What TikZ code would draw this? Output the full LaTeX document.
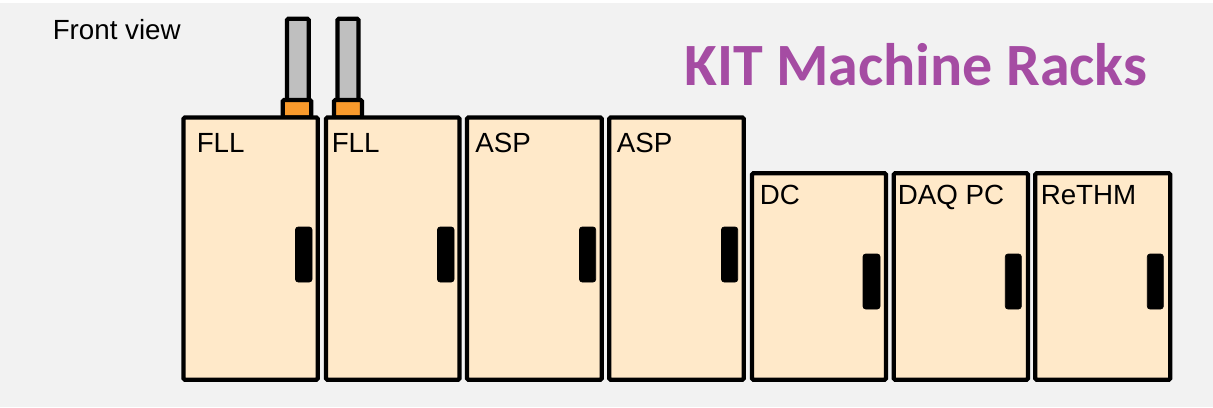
\documentclass[tikz,border=0pt]{standalone}
\usepackage{fontspec}
\setmainfont{Liberation Sans}
\newfontfamily\titlefont{Carlito}
\definecolor{bgcol}{HTML}{F2F2F2}
\definecolor{rackfill}{HTML}{FFE9C9}
\definecolor{orangecol}{HTML}{F99A2C}
\definecolor{tubegrey}{HTML}{BFBFBF}
\definecolor{titlecol}{HTML}{A54CA3}
\tikzset{
  rackbox/.style={draw=black, line width=3.2pt, fill=rackfill, rounded corners=1pt},
  handlebox/.style={fill=black, draw=black, line width=0.5pt, rounded corners=2pt},
  tubebox/.style={draw=black, line width=3.2pt, fill=tubegrey, rounded corners=1pt},
  capbox/.style={draw=black, line width=3.2pt, fill=orangecol, rounded corners=1pt},
  racklabel/.style={anchor=base west, inner sep=0pt, font=\fontsize{20.8}{25}\selectfont},
}
\begin{document}
\begin{tikzpicture}[x=0.75pt, y=-0.75pt]
\useasboundingbox (0,0) rectangle (1213,407);
\fill[white] (0,0) rectangle (1213,407);
\fill[bgcol] (0,3) rectangle (1213,407);

% front view label
\node[racklabel] (fv) at (52.5,39.3) {Front view};

% title
\node[anchor=base west, inner sep=0pt, text=titlecol, font=\titlefont\bfseries\fontsize{45}{54}\selectfont] (title) at (684,85) {KIT Machine Racks};

% tubes on FLL racks
\draw[tubebox] (287,18.7) rectangle (308.7,101);
\draw[tubebox] (337.5,18.7) rectangle (358.5,101);
\draw[capbox] (282.7,100) rectangle (311.3,117.5);
\draw[capbox] (334,100) rectangle (362,117.5);

% tall racks
\draw[rackbox] (183.5,117.5) rectangle (317.7,379.7);
\draw[rackbox] (326,117.5) rectangle (459.5,379.7);
\draw[rackbox] (467,117.5) rectangle (601.7,379.7);
\draw[rackbox] (609.3,117.5) rectangle (743.7,379.7);
% short racks
\draw[rackbox] (752,173.3) rectangle (886,379.7);
\draw[rackbox] (893.7,173.3) rectangle (1028,379.7);
\draw[rackbox] (1035.3,173.3) rectangle (1170.3,379.7);

% handles
\draw[handlebox] (295.5,227) rectangle (312,282);
\draw[handlebox] (437.5,227) rectangle (454,282);
\draw[handlebox] (579.5,227) rectangle (595.7,282);
\draw[handlebox] (721.5,227) rectangle (737.7,282);
\draw[handlebox] (863,254) rectangle (880,309);
\draw[handlebox] (1005.3,254) rectangle (1021.3,309);
\draw[handlebox] (1147.3,254) rectangle (1163.3,309);

% labels
\node[racklabel] (l1) at (196.5,152) {FLL};
\node[racklabel] (l2) at (331.5,152) {FLL};
\node[racklabel] (l3) at (475,152) {ASP};
\node[racklabel] (l4) at (616.5,152) {ASP};
\node[racklabel] (l5) at (759.5,204) {DC};
\node[racklabel] (l6) at (897.5,204) {DAQ PC};
\node[racklabel] (l7) at (1040.5,204) {ReTHM};
\end{tikzpicture}
\end{document}
